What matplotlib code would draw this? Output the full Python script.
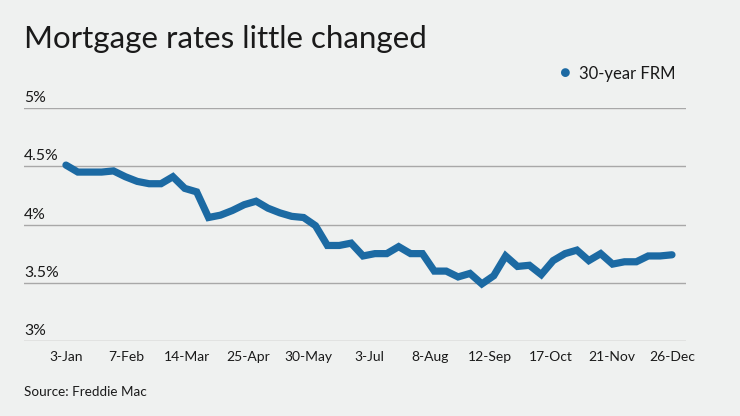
import numpy as np
import matplotlib
matplotlib.use("Agg")
import matplotlib.pyplot as plt
import matplotlib.transforms as mtransforms

# Freddie Mac 30-year fixed rate, weekly 2019
rates = [4.51, 4.45, 4.45, 4.45, 4.46, 4.41, 4.37, 4.35, 4.35, 4.41,
         4.31, 4.28, 4.06, 4.08, 4.12, 4.17, 4.20, 4.14, 4.10, 4.07,
         4.06, 3.99, 3.82, 3.82, 3.84, 3.73, 3.75, 3.75, 3.81, 3.75,
         3.75, 3.60, 3.60, 3.55, 3.58, 3.49, 3.56, 3.73, 3.64, 3.65,
         3.57, 3.69, 3.75, 3.78, 3.69, 3.75, 3.66, 3.68, 3.68, 3.73,
         3.73, 3.74]
tick_labels = ["3-Jan", "7-Feb", "14-Mar", "25-Apr", "30-May", "3-Jul",
               "8-Aug", "12-Sep", "17-Oct", "21-Nov", "26-Dec"]
y_ticks = [3, 3.5, 4, 4.5, 5]
y_labels = ["3%", "3.5%", "4%", "4.5%", "5%"]
series_name = "30-year FRM"

bg = "#eff1f0"
line_color = "#1c6aa3"
grid_color = "#a8a8a8"
text_color = "#1a1a1a"

plt.rcParams['font.family'] = ['Lato', 'DejaVu Sans']

fig = plt.figure(figsize=(7.4, 4.16), dpi=100, facecolor=bg)
ax = fig.add_axes([24 / 740, 75 / 416, 662 / 740, 233 / 416])
ax.set_facecolor(bg)

x = np.arange(len(rates))
ax.plot(x, rates, color=line_color, lw=5.2, solid_capstyle='round',
        solid_joinstyle='miter', clip_on=False, zorder=3)

ax.set_xlim(-3.53, 52.18)
ax.set_ylim(3, 5)

for s in ax.spines.values():
    s.set_visible(False)
ax.set_yticks([])
for yv in y_ticks:
    ax.axhline(yv, color=grid_color, lw=1.0, zorder=1)

# y labels sit above the gridlines, left aligned
trans = mtransforms.blended_transform_factory(ax.transAxes, ax.transData)
for yv, lab in zip(y_ticks, y_labels):
    ax.text(0, yv + 0.025, lab, transform=trans, ha='left', va='bottom',
            fontsize=11.3, color=text_color)

ax.set_xticks(np.linspace(0, len(rates) - 1, len(tick_labels)))
ax.set_xticklabels(tick_labels, fontsize=10, color=text_color)
ax.tick_params(axis='x', length=0, pad=7)

fig.text(24 / 740, 1 - 48 / 416, "Mortgage rates little changed",
         fontsize=22.5, color=text_color, ha='left', va='baseline')

# legend
fig.text(565 / 740, 1 - 73 / 416, "\u25CF", fontsize=13, color=line_color,
         ha='center', va='center')
fig.text(579 / 740, 1 - 74 / 416, series_name, fontsize=12,
         color=text_color, ha='left', va='center')

fig.text(24 / 740, 1 - 392 / 416, "Source: Freddie Mac", fontsize=9.7,
         color=text_color, ha='left', va='center')

fig.savefig("out.png", dpi=100, facecolor=bg)
